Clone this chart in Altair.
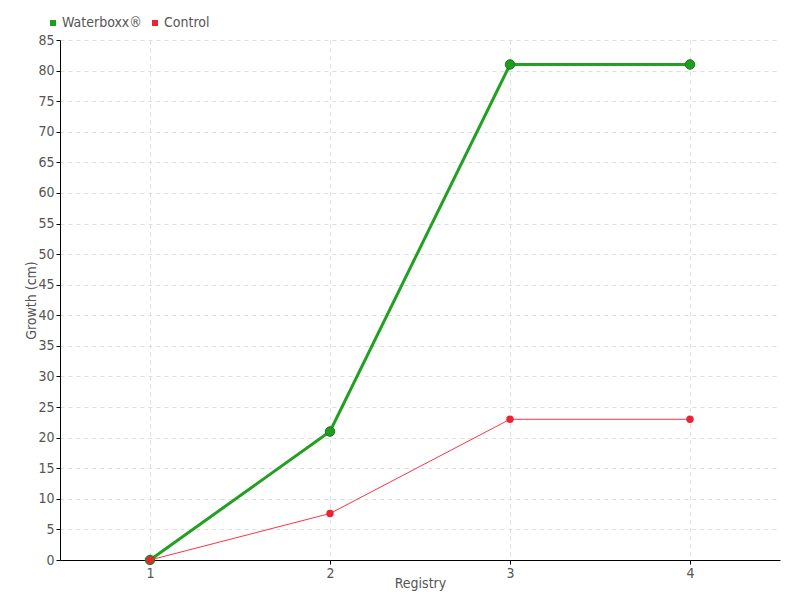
import altair as alt
import pandas as pd

registry = [1, 2, 3, 4]
waterboxx = [0, 21, 81, 81]
control = [0, 7.6, 23, 23]
series_names = ["Waterboxx®", "Control"]
y_ticks = list(range(0, 90, 5))

df = pd.DataFrame({
    "Registry": registry * 2,
    "Growth": waterboxx + control,
    "Series": [series_names[0]] * 4 + [series_names[1]] * 4,
})

FONT = "DejaVu Sans Condensed, Roboto, sans-serif"
TXT = "#555555"

color_scale = alt.Scale(domain=series_names, range=["#1e9e1e", "#ee2233"])

x_enc = alt.X("Registry:Q", scale=alt.Scale(domain=[0.5, 4.5], nice=False),
              axis=alt.Axis(values=registry, title="Registry", format="d",
                            grid=True, gridDash=[4, 4], gridColor="#dddddd",
                            domainColor="black", tickColor="black", tickSize=4,
                            labelColor=TXT, titleColor=TXT, labelFont=FONT, titleFont=FONT,
                            labelFontSize=14, titleFontSize=14, titleFontWeight="normal",
                            titlePadding=-4, labelPadding=2))
y_enc = alt.Y("Growth:Q", scale=alt.Scale(domain=[0, 85], nice=False),
              axis=alt.Axis(values=y_ticks, title="Growth (cm)",
                            grid=True, gridDash=[4, 4], gridColor="#dddddd",
                            domainColor="black", tickColor="black", tickSize=4,
                            labelColor=TXT, titleColor=TXT, labelFont=FONT, titleFont=FONT,
                            labelFontSize=14, titleFontSize=14, titleFontWeight="normal",
                            titlePadding=-1))

base = alt.Chart(df)

green = base.transform_filter(alt.datum.Series == series_names[0])
red = base.transform_filter(alt.datum.Series == series_names[1])

green_line = green.mark_line(strokeWidth=3, color="#22a022").encode(x=x_enc, y=y_enc)
green_pts = green.mark_circle(size=90, opacity=1, color="#1a8c1a", stroke="#167816", strokeWidth=1).encode(
    x=x_enc, y=y_enc,
    color=alt.Color("Series:N", scale=color_scale,
                    legend=alt.Legend(title=None, orient="none", legendX=-14, legendY=-24,
                                      direction="horizontal", symbolType="square",
                                      symbolSize=36, labelFont=FONT, labelFontSize=14,
                                      labelColor=TXT, columnPadding=6, labelOffset=2,
                                      symbolStrokeWidth=0)))
red_line = red.mark_line(strokeWidth=1, color="#ff3344").encode(x=x_enc, y=y_enc)
red_pts = red.mark_circle(size=55, opacity=1).encode(
    x=x_enc, y=y_enc, color=alt.Color("Series:N", scale=color_scale))

chart = alt.layer(green_line, green_pts, red_line, red_pts).properties(
    width=720, height=520,
    autosize=alt.AutoSizeParams(type="none"),
    padding={"left": 52, "top": 32, "right": 12, "bottom": 32},
).configure_view(stroke=None).configure_legend(symbolFillColor=None)

chart.save("out.html", embed_options={"renderer": "svg", "actions": False})
